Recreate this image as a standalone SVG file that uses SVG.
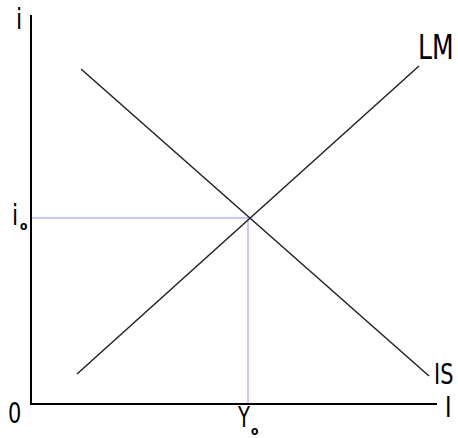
<svg xmlns="http://www.w3.org/2000/svg" width="458" height="438" viewBox="0 0 458 438">
<style>
.ax{stroke:#000;stroke-width:2;fill:none}
.cv{stroke:#222;stroke-width:1.5;fill:none}
.gd{stroke:#c8c8ff;stroke-width:2;fill:none}
text{font-family:"DejaVu Sans Condensed","Liberation Sans",sans-serif;fill:#000}
.lb{font-size:29px}
.big{font-size:34px}
.sb{font-size:12px;font-weight:bold}
</style>
<rect width="458" height="438" fill="#fff"/>
<g id="connectors">
<line class="gd" x1="31" y1="218" x2="249" y2="218"/>
<line class="gd" x1="248" y1="218" x2="248" y2="404"/>
<line class="cv" x1="81" y1="69" x2="429" y2="376"/>
<line class="cv" x1="77" y1="374" x2="419" y2="66"/>
<polyline class="ax" points="31,15 31,404 437,404"/>
</g>
<g id="labels">
<text class="lb" transform="translate(16,29) scale(0.85,1)">i</text>
<text class="lb" transform="translate(12,225) scale(0.85,1)">i</text>
<text class="sb" x="20" y="230">o</text>
<text class="lb" transform="translate(8,423) scale(0.8,1)">0</text>
<text class="lb" transform="translate(238,427) scale(0.75,1)">Y</text>
<text class="sb" x="251" y="435">o</text>
<text class="lb" transform="translate(445,417) scale(0.85,1)">I</text>
<text class="big" transform="translate(418,59) scale(0.82,1)">LM</text>
<text class="lb" transform="translate(434,384) scale(0.8,1)">IS</text>
</g>
</svg>
